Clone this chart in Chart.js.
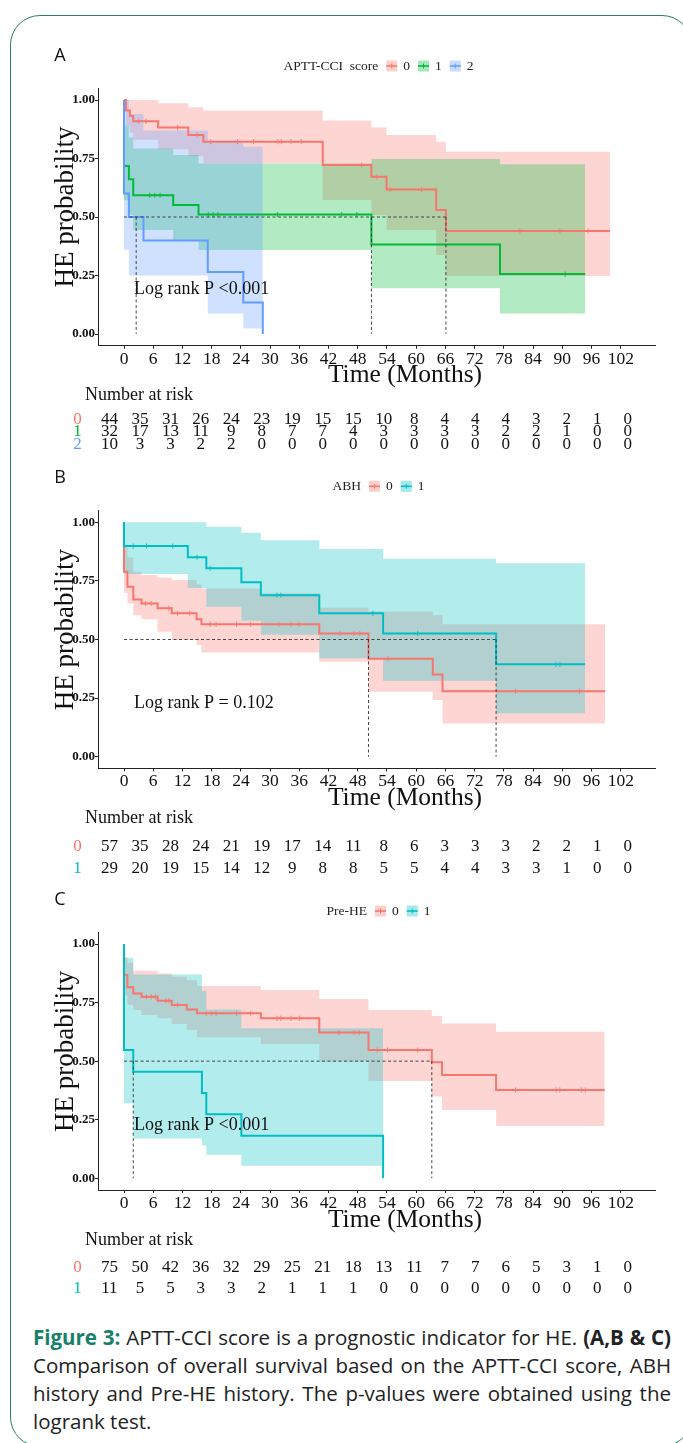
<!DOCTYPE html>
<html><head><meta charset="utf-8">
<script src="https://cdn.jsdelivr.net/npm/chart.js@4.4.1/dist/chart.umd.min.js"></script>
<style>
html,body{margin:0;padding:0;background:#fff;}
body{width:683px;height:1443px;position:relative;overflow:hidden;}
#frame{position:absolute;left:10px;top:15px;width:682px;height:1432px;border:1.5px solid #2b7d66;border-radius:30px;box-sizing:border-box;}
canvas{position:absolute;left:0;}
#cap{position:absolute;left:33px;top:1323px;width:638px;font-family:'Open Sans';font-size:20.5px;line-height:28px;color:#222;}
#cap div{white-space:nowrap;text-align:justify;text-align-last:justify;}
#cap div.last{text-align:left;text-align-last:left;}
#cap b{font-weight:700;}
#cap b.fig{color:#17806a;}
</style></head>
<body>
<div id="frame"></div>
<canvas id="cA" width="683" height="430" style="top:30px"></canvas>
<canvas id="cB" width="683" height="420" style="top:460px"></canvas>
<canvas id="cC" width="683" height="430" style="top:880px"></canvas>
<div id="cap">
<div><b class="fig">Figure 3:</b> APTT-CCI score is a prognostic indicator for HE. <b>(A,B &amp; C)</b></div>
<div>Comparison of overall survival based on the APTT-CCI score, ABH</div>
<div>history and Pre-HE history. The p-values were obtained using the</div>
<div class="last">logrank test.</div>
</div>
<script>
// ---------- shared axes ----------
const xTicks = [0,6,12,18,24,30,36,42,48,54,60,66,72,78,84,90,96,102];
const yTicks = [0,0.25,0.5,0.75,1];
const colRed = '#F8766D', colGreen = '#00BA38', colBlue = '#619CFF', colTeal = '#00BFC4';

// ---------- Panel A : APTT-CCI score ----------
const aT0 = [0,0.4,1.2,1.9,7.0,13.2,16.3,40.8,50.8,53.9,64.1,66.1,99.8];
const aS0 = [1,0.955,0.932,0.909,0.883,0.850,0.822,0.722,0.672,0.618,0.530,0.440,0.440];
const aU0 = [1,1,1,1,0.986,0.969,0.955,0.912,0.883,0.850,0.822,0.779,0.779];
const aL0 = [1,0.89,0.86,0.83,0.79,0.76,0.73,0.573,0.509,0.444,0.338,0.248,0.248];
const aCT0 = [3.0,4.5,11.0,15.0,17.8,23.3,26.6,31.6,32.3,34.3,36.4,48.8,51.9,54.6,61.1,81.3,89.5,95.3];
const aCS0 = [0.909,0.909,0.883,0.850,0.822,0.822,0.822,0.822,0.822,0.822,0.822,0.722,0.672,0.618,0.618,0.440,0.440,0.440];

const aT1 = [0,0,1.0,1.9,10.1,15.3,50.8,77.2,94.7];
const aS1 = [1,0.718,0.661,0.593,0.551,0.511,0.383,0.256,0.256];
const aU1 = [1,0.89,0.84,0.793,0.765,0.729,0.748,0.725,0.725];
const aL1 = [1,0.57,0.51,0.444,0.402,0.359,0.195,0.088,0.088];
const aCT1 = [5.3,6.3,7.4,17.3,18.3,19.3,31.5,44.7,47.8,90.6];
const aCS1 = [0.593,0.593,0.593,0.511,0.511,0.511,0.511,0.511,0.511,0.256];

const aT2 = [0,0,1.0,4.0,17.2,24.5,28.5];
const aS2 = [1,0.6,0.5,0.4,0.265,0.135,0];
const aU2 = [1,1,0.94,0.87,0.82,0.80,0.80];
const aL2 = [1,0.36,0.25,0.25,0.088,0.024,0.024];
const aCT2 = [];
const aCS2 = [];

const aRisk0 = [44,35,31,26,24,23,19,15,15,10,8,4,4,4,3,2,1,0];
const aRisk1 = [32,17,13,11,9,8,7,7,4,3,3,3,3,2,2,1,0,0];
const aRisk2 = [10,3,3,2,2,0,0,0,0,0,0,0,0,0,0,0,0,0];
const aMedians = [2.5,50.8,66.1];

// ---------- Panel B : ABH ----------
const bT0 = [0,0,0.7,1.9,3.6,6.9,9.8,14.9,15.9,28.1,40.1,50.2,63.4,65.4,98.8];
const bS0 = [1,0.789,0.725,0.671,0.654,0.633,0.612,0.586,0.565,0.565,0.526,0.418,0.351,0.279,0.279];
const bU0 = [1,0.90,0.85,0.789,0.775,0.765,0.754,0.735,0.718,0.697,0.636,0.62,0.604,0.565,0.565];
const bL0 = [1,0.70,0.654,0.604,0.586,0.533,0.498,0.477,0.444,0.444,0.405,0.277,0.242,0.142,0.142];
const bCT0 = [4.4,5.6,9.2,11.0,13.5,17.7,18.9,23.1,26.0,31.8,34.3,36.0,44.3,47.2,48.4,54.2,80.4,93.5];
const bCS0 = [0.654,0.654,0.633,0.612,0.612,0.565,0.565,0.565,0.565,0.565,0.565,0.565,0.526,0.526,0.526,0.418,0.279,0.279];

const bT1 = [0,0,13.1,16.9,24.1,28.1,40.1,53.2,76.4,94.7];
const bS1 = [1,0.899,0.851,0.804,0.744,0.689,0.612,0.526,0.394,0.394];
const bU1 = [1,1,1,0.981,0.956,0.924,0.886,0.845,0.825,0.825];
const bL1 = [1,0.78,0.72,0.64,0.58,0.52,0.42,0.324,0.185,0.185];
const bCT1 = [1.9,4.6,10.0,15.0,17.7,31.4,32.2,51.1,60.3,88.7,89.5];
const bCS1 = [0.899,0.899,0.899,0.851,0.804,0.689,0.689,0.612,0.526,0.394,0.394];

const bRisk0 = [57,35,28,24,21,19,17,14,11,8,6,3,3,3,2,2,1,0];
const bRisk1 = [29,20,19,15,14,12,9,8,8,5,5,4,4,3,3,1,0,0];
const bMedians = [50.2,76.4];

// ---------- Panel C : Pre-HE ----------
const cT0 = [0,0,0.7,1.9,3.6,6.9,9.8,12.9,15.0,28.1,40.1,50.2,63.2,65.3,76.4,98.7];
const cS0 = [1,0.868,0.815,0.789,0.775,0.758,0.740,0.721,0.704,0.683,0.622,0.548,0.495,0.441,0.377,0.377];
const cU0 = [1,0.946,0.92,0.886,0.886,0.874,0.86,0.845,0.821,0.804,0.765,0.718,0.693,0.661,0.626,0.626];
const cL0 = [1,0.78,0.74,0.718,0.697,0.683,0.659,0.633,0.602,0.573,0.498,0.415,0.349,0.292,0.223,0.223];
const cCT0 = [4.6,5.6,6.5,8.6,9.2,11.0,16.9,17.9,18.9,23.1,26.0,31.4,32.2,34.3,36.0,44.1,47.2,48.3,52.0,54.1,60.3,80.4,88.7,89.5,93.9,94.7];
const cCS0 = [0.775,0.775,0.775,0.758,0.758,0.740,0.704,0.704,0.704,0.704,0.704,0.683,0.683,0.683,0.683,0.622,0.622,0.622,0.548,0.548,0.548,0.377,0.377,0.377,0.377,0.377];

const cT1 = [0,0,1.9,16.0,16.9,24.1,53.2];
const cS1 = [1,0.548,0.455,0.364,0.273,0.182,0];
const cU1 = [1,0.94,0.87,0.80,0.72,0.64,0.64];
const cL1 = [1,0.32,0.17,0.14,0.10,0.053,0.053];
const cCT1 = [];
const cCS1 = [];

const cRisk0 = [75,50,42,36,32,29,25,21,18,13,11,7,7,6,5,3,1,0];
const cRisk1 = [11,5,5,3,3,2,1,1,1,0,0,0,0,0,0,0,0,0];
const cMedians = [1.9,63.2];

// ---------- helpers ----------
function rgba(hex,a){const n=parseInt(hex.slice(1),16);return `rgba(${n>>16&255},${n>>8&255},${n&255},${a})`;}
function pts(xs,ys){return xs.map((x,i)=>({x:x,y:ys[i]}));}

function makeKM(id, cfg){
  const ds = [];
  const G = cfg.groups;
  G.forEach((g,k)=>{
    ds.push({data:pts(g.t,g.u),stepped:true,borderWidth:0,pointRadius:0,fill:'+1',backgroundColor:rgba(g.color,0.3),order:30-2*k,xAxisID:'x'});
    ds.push({data:pts(g.t,g.l),stepped:true,borderWidth:0,pointRadius:0,fill:false,order:29-2*k,xAxisID:'x'});
  });
  G.forEach((g,k)=>{
    ds.push({data:pts(g.t,g.s),stepped:true,borderColor:g.color,borderWidth:2,pointRadius:0,fill:false,order:15-k,xAxisID:'x'});
  });
  G.forEach((g,k)=>{
    ds.push({data:pts(g.ct,g.cs),showLine:false,pointStyle:'cross',pointRadius:2.6,borderWidth:1,borderColor:rgba(g.color,0.85),backgroundColor:g.color,order:10-k,xAxisID:'x'});
  });
  const hEnd = Math.max(...cfg.medians);
  ds.push({data:[{x:0,y:0.5},{x:hEnd,y:0.5}],borderColor:'#333',borderWidth:0.9,borderDash:[3,2.5],pointRadius:0,fill:false,order:1,xAxisID:'x'});
  cfg.medians.forEach(m=>{
    ds.push({data:[{x:m,y:0.5},{x:m,y:0}],borderColor:'#333',borderWidth:0.9,borderDash:[3,2.5],pointRadius:0,fill:false,order:1,xAxisID:'x'});
  });

  const decor = {
    id:'decor'+id,
    afterDraw(chart){
      const ctx = chart.ctx, x = chart.scales.x, y = chart.scales.y, xr = chart.scales.xr;
      const ca = chart.chartArea;
      ctx.save();
      ctx.fillStyle='#111'; ctx.font='18px "Open Sans"'; ctx.textAlign='center'; ctx.textBaseline='middle';
      ctx.fillText(cfg.letter, 60, y.getPixelForValue(1)-44);
      ctx.font='13.5px "Liberation Serif"'; ctx.textAlign='left'; ctx.fillStyle='#222';
      const ly = y.getPixelForValue(1)-cfg.legendDy;
      const tw = ctx.measureText(cfg.legendTitle).width;
      let total = tw;
      const lw = G.map(g=>ctx.measureText(g.name).width);
      lw.forEach(w=>{ total += 8 + 11 + 6 + w; });
      let cx = (ca.left+ca.right)/2 + 2 - total/2;
      ctx.fillText(cfg.legendTitle, cx, ly); cx += tw;
      G.forEach((g,k)=>{
        cx += 8;
        ctx.fillStyle=rgba(g.color,0.35); ctx.fillRect(cx, ly-5.5, 11, 11);
        ctx.strokeStyle=g.color; ctx.lineWidth=1.6; ctx.beginPath(); ctx.moveTo(cx,ly); ctx.lineTo(cx+11,ly); ctx.stroke();
        ctx.lineWidth=1; ctx.beginPath(); ctx.moveTo(cx+5.5,ly-2.5); ctx.lineTo(cx+5.5,ly+2.5); ctx.stroke();
        cx += 11 + 6;
        ctx.fillStyle='#222'; ctx.fillText(g.name, cx, ly); cx += lw[k];
      });
      ctx.save();
      ctx.translate(73, y.getPixelForValue(0)-127);
      ctx.rotate(-Math.PI/2);
      ctx.font='27px "Liberation Serif"'; ctx.fillStyle='#111'; ctx.textAlign='center'; ctx.textBaseline='alphabetic';
      ctx.fillText('HE probability', 0, 0);
      ctx.restore();
      ctx.font='25.5px "Liberation Serif"'; ctx.fillStyle='#111'; ctx.textAlign='center'; ctx.textBaseline='middle';
      ctx.fillText('Time (Months)', 405, ca.bottom+30);
      ctx.font='18px "Liberation Serif"'; ctx.textAlign='left'; ctx.fillStyle='#111';
      ctx.fillText(cfg.pText, x.getPixelForValue(2.05), y.getPixelForValue(cfg.pY));
      ctx.font='18px "Liberation Serif"'; ctx.textAlign='left'; ctx.fillStyle='#111';
      ctx.fillText('Number at risk', 85, ca.bottom+cfg.narDy);
      ctx.font='17px "Liberation Serif"';
      cfg.risk.forEach((row,k)=>{
        const ry = ca.bottom + cfg.rowDy[k];
        ctx.textAlign='center';
        ctx.fillStyle=G[k].color; ctx.fillText(G[k].name, 77.5, ry);
        ctx.fillStyle='#111';
        row.forEach((n,i)=>ctx.fillText(String(n), xr.getPixelForValue(xTicks[i]), ry));
      });
      ctx.restore();
    }
  };

  return new Chart(document.getElementById(id), {
    type:'line',
    data:{datasets:ds},
    options:{
      responsive:false, animation:false, devicePixelRatio:1,
      layout:{padding:{left:0,right:28,top:cfg.padTop,bottom:cfg.padBottom}},
      plugins:{legend:{display:false},tooltip:{enabled:false},title:{display:false}},
      scales:{
        x:{type:'linear',position:'bottom',min:-5.34,max:109.03,
           afterBuildTicks:s=>{s.ticks=xTicks.map(v=>({value:v}));},
           afterFit:s=>{s.height=40;},
           grid:{display:true,drawOnChartArea:false,drawTicks:true,tickLength:3,color:'#222'},
           border:{display:true,color:'#222',width:1},
           ticks:{color:'#111',font:{family:'Liberation Serif',size:17.5},padding:0,maxRotation:0,autoSkip:false}},
        xr:{type:'linear',position:'bottom',display:false,min:-2.243,max:107.36},
        y:{type:'linear',min:-0.05,max:1.05,
           afterBuildTicks:s=>{s.ticks=yTicks.map(v=>({value:v}));},
           afterFit:s=>{s.width=98;},
           grid:{display:true,drawOnChartArea:false,drawTicks:true,tickLength:3,color:'#222'},
           border:{display:true,color:'#222',width:1},
           ticks:{color:'#111',font:{family:'Liberation Serif',size:13,weight:'bold'},padding:0,callback:v=>Number(v).toFixed(2)}}
      }
    },
    plugins:[decor]
  });
}

makeKM('cA',{
  letter:'A', legendTitle:'APTT-CCI  score', legendDy:34,
  groups:[
    {name:'0',color:colRed,t:aT0,s:aS0,u:aU0,l:aL0,ct:aCT0,cs:aCS0},
    {name:'1',color:colGreen,t:aT1,s:aS1,u:aU1,l:aL1,ct:aCT1,cs:aCS1},
    {name:'2',color:colBlue,t:aT2,s:aS2,u:aU2,l:aL2,ct:aCT2,cs:aCS2}],
  medians:aMedians, risk:[aRisk0,aRisk1,aRisk2],
  pText:'Log rank P <0.001', pY:0.19,
  padTop:58.3, padBottom:74.3, narDy:49.3, rowDy:[73.6,86,99.3]
});
makeKM('cB',{
  letter:'B', legendTitle:'ABH', legendDy:36,
  groups:[
    {name:'0',color:colRed,t:bT0,s:bS0,u:bU0,l:bL0,ct:bCT0,cs:bCS0},
    {name:'1',color:colTeal,t:bT1,s:bS1,u:bU1,l:bL1,ct:bCT1,cs:bCS1}],
  medians:bMedians, risk:[bRisk0,bRisk1],
  pText:'Log rank P = 0.102', pY:0.228,
  padTop:50.6, padBottom:71.6, narDy:49.6, rowDy:[78.3,99.9]
});
makeKM('cC',{
  letter:'C', legendTitle:'Pre-HE', legendDy:33,
  groups:[
    {name:'0',color:colRed,t:cT0,s:cS0,u:cU0,l:cL0,ct:cCT0,cs:cCS0},
    {name:'1',color:colTeal,t:cT1,s:cS1,u:cU1,l:cL1,ct:cCT1,cs:cCS1}],
  medians:cMedians, risk:[cRisk0,cRisk1],
  pText:'Log rank P <0.001', pY:0.227,
  padTop:52.3, padBottom:80, narDy:50.7, rowDy:[77.3,99]
});
</script>
</body></html>
